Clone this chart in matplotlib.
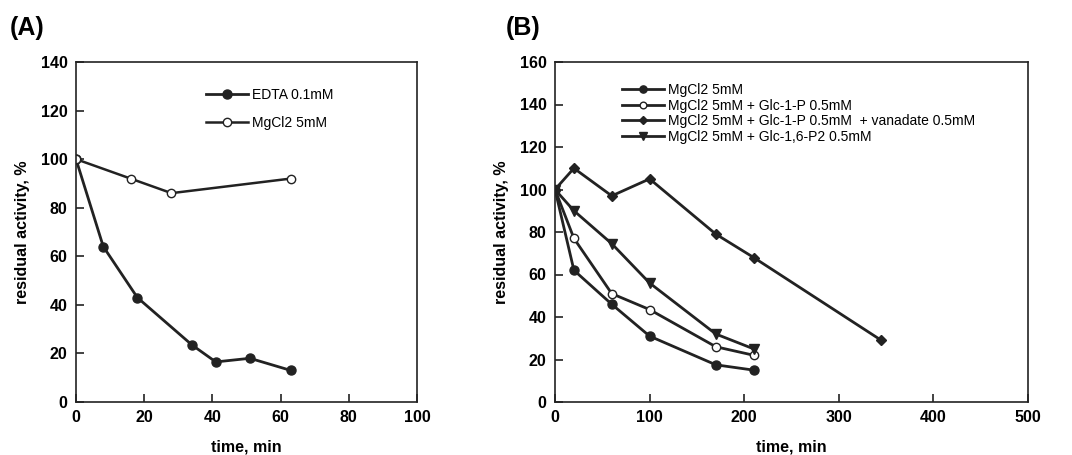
import matplotlib.pyplot as plt

plt.rcParams['font.family'] = ['Liberation Sans', 'DejaVu Sans']

# panel A data
a_edta_t = [0, 8, 18, 34, 41, 51, 63]
a_edta_y = [100, 64, 43, 23.5, 16.5, 18, 13]
a_mg_t = [0, 16, 28, 63]
a_mg_y = [100, 92, 86, 92]

# panel B data
b_t = [0, 20, 60, 100, 170, 210]
b_mg = [100, 62, 46, 31, 17.5, 15]
b_g1p = [100, 77, 51, 43.5, 26, 22]
b_van_t = [0, 20, 60, 100, 170, 210, 345]
b_van = [100, 110, 97, 105, 79, 68, 29]
b_g16 = [100, 90, 74.5, 56, 32, 25]

c = '#222222'
fig = plt.figure(figsize=(10.72, 4.55), dpi=100)
ax1 = fig.add_axes([76/1072, 1-402/455, 341/1072, 340/455])
ax2 = fig.add_axes([555/1072, 1-402/455, 473/1072, 340/455])

ax1.plot(a_edta_t, a_edta_y, '-o', color=c, lw=2, ms=6.5, mfc=c, label='EDTA 0.1mM')
ax1.plot(a_mg_t, a_mg_y, '-o', color=c, lw=1.8, ms=6, mfc='white', mew=1, label='MgCl2 5mM')
ax1.set_xlim(0, 100)
ax1.set_ylim(0, 140)
ax1.set_xticks(range(0, 101, 20))
ax1.set_yticks(range(0, 141, 20))
ax1.legend(loc='upper left', bbox_to_anchor=(0.345, 0.96), frameon=False, fontsize=10,
           handlelength=3, labelspacing=1.0, handletextpad=0.3)

ax2.plot(b_t, b_mg, '-o', color=c, lw=2, ms=6.5, mfc=c, label='MgCl2 5mM')
ax2.plot(b_t, b_g1p, '-o', color=c, lw=2, ms=6, mfc='white', mew=1,
         label='MgCl2 5mM + Glc-1-P 0.5mM')
ax2.plot(b_van_t, b_van, '-D', color=c, lw=2, ms=5.5, mfc=c,
         label='MgCl2 5mM + Glc-1-P 0.5mM  + vanadate 0.5mM')
ax2.plot(b_t, b_g16, '-v', color=c, lw=2, ms=7, mfc=c, label='MgCl2 5mM + Glc-1,6-P2 0.5mM')
ax2.set_xlim(0, 500)
ax2.set_ylim(0, 160)
ax2.set_xticks(range(0, 501, 100))
ax2.set_yticks(range(0, 161, 20))
ax2.legend(loc='upper left', bbox_to_anchor=(0.13, 0.955), frameon=False, fontsize=10,
           handlelength=3, labelspacing=0.12, handletextpad=0.3, borderaxespad=0,
           markerscale=0.8)

for ax in (ax1, ax2):
    ax.tick_params(direction='in', length=6, width=1.2, labelsize=11.5, color=c, pad=6)
    for lab in ax.get_xticklabels() + ax.get_yticklabels():
        lab.set_fontweight('bold')
    for s in ax.spines.values():
        s.set_color(c)
        s.set_linewidth(1.2)
    ax.set_xlabel('time, min', fontsize=11.5, fontweight='bold', labelpad=10)
    ax.set_ylabel('residual activity, %', fontsize=11.5, fontweight='bold', labelpad=8)

fig.text(10/1072, 1-28/455, '(A)', fontsize=18, fontweight='bold', va='center')
fig.text(506/1072, 1-28/455, '(B)', fontsize=18, fontweight='bold', va='center')

plt.savefig('out.png', dpi=100)
